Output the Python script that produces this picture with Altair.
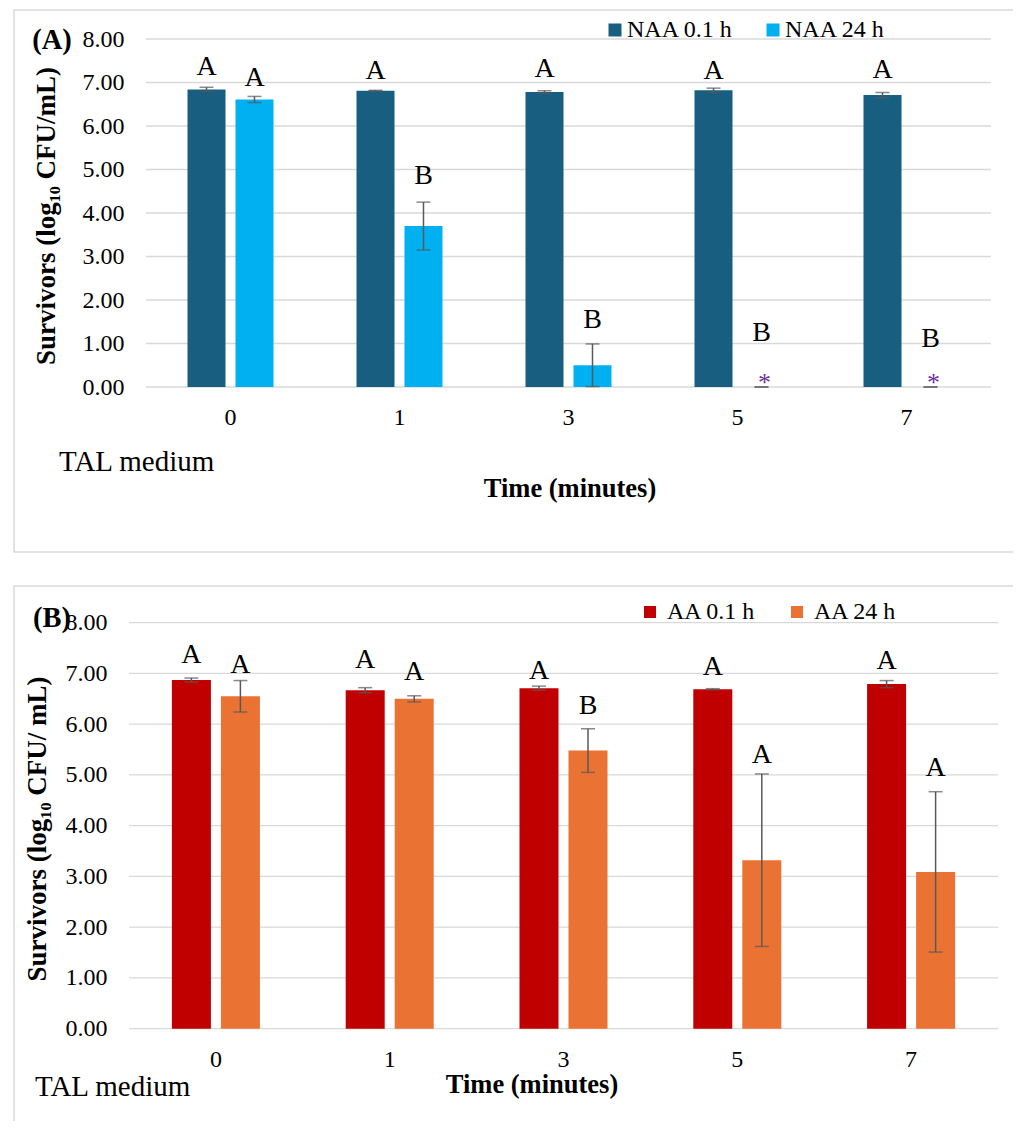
import altair as alt
import pandas as pd

FONT = "Liberation Serif"

times = ["0", "1", "3", "5", "7"]
y_ticks = [0, 1, 2, 3, 4, 5, 6, 7, 8]

# ---- Panel A: NAA ----
naa_series = ["NAA 0.1 h", "NAA 24 h"]
naa_colors = ["#175E81", "#00B0F0"]
naa_short_mean = [6.84, 6.81, 6.78, 6.82, 6.71]
naa_short_err = [0.05, 0.01, 0.03, 0.05, 0.06]
naa_long_mean = [6.61, 3.70, 0.50, 0.0, 0.0]
naa_long_err = [0.07, 0.55, 0.49, 0.0, 0.0]
naa_short_letters = ["A", "A", "A", "A", "A"]
naa_long_letters = ["A", "B", "B", "B", "B"]
naa_short_letter_at = [7.36, 7.26, 7.32, 7.27, 7.29]
naa_long_letter_at = [7.10, 4.85, 1.54, 1.24, 1.10]
naa_short_marks = ["", "", "", "", ""]
naa_long_marks = ["", "", "", "*", "*"]

# ---- Panel B: AA ----
aa_series = ["AA 0.1 h", "AA 24 h"]
aa_colors = ["#C00000", "#EA7333"]
aa_short_mean = [6.87, 6.67, 6.71, 6.69, 6.79]
aa_short_err = [0.04, 0.05, 0.04, 0.01, 0.07]
aa_long_mean = [6.55, 6.50, 5.48, 3.32, 3.09]
aa_long_err = [0.31, 0.06, 0.43, 1.70, 1.58]
aa_short_letters = ["A", "A", "A", "A", "A"]
aa_long_letters = ["A", "A", "B", "A", "A"]
aa_short_letter_at = [7.36, 7.26, 7.05, 7.13, 7.24]
aa_long_letter_at = [7.16, 7.03, 6.35, 5.39, 5.14]
aa_short_marks = ["", "", "", "", ""]
aa_long_marks = ["", "", "", "", ""]


def make_df(series, means, errs, letters, letter_at, marks):
    rows = []
    for s, m_l, e_l, l_l, la_l, mk_l in zip(series, means, errs, letters, letter_at, marks):
        for t, m, e, l, la, mk in zip(times, m_l, e_l, l_l, la_l, mk_l):
            rows.append(dict(time=t, series=s, mean=m, low=max(m - e, 0.0), high=m + e,
                             letter=l, letter_at=la, mark=mk))
    return pd.DataFrame(rows)


def text_layer(txt, x, y, size, bold=False, angle=0, align="center", color="black"):
    kw = dict(font=FONT, fontSize=size, align=align, baseline="middle", color=color)
    if bold:
        kw["fontWeight"] = "bold"
    if angle:
        kw["angle"] = angle
    return alt.Chart(pd.DataFrame({"t": [txt]})).mark_text(**kw).encode(
        text="t:N", x=alt.value(x), y=alt.value(y))


def panel(df, series, colors, x_range, y_range, x_axis_off, y_axis_off, x_lab_pad, y_lab_pad,
          pad_inner, pad_outer, legend_xy, legend_label_offset, legend_col_pad, symbol_size,
          box, panel_label, panel_label_xy, ytitle, ytitle_xy, tal_xy, time_xy):
    xscale = alt.Scale(domain=times, range=x_range, paddingInner=0, paddingOuter=0)
    yscale = alt.Scale(domain=[0, 8], range=y_range, nice=False, zero=True)
    xaxis = alt.Axis(orient="bottom", offset=x_axis_off, domain=False, ticks=False, grid=False,
                     labelFont=FONT, labelFontSize=24, labelColor="black", labelPadding=x_lab_pad,
                     labelAngle=0, title=None)
    yaxis = alt.Axis(orient="left", offset=y_axis_off, values=y_ticks, format=".2f", domain=False,
                     ticks=False, grid=False, labelFont=FONT, labelFontSize=24, labelColor="black",
                     labelPadding=y_lab_pad, title=None)
    X = alt.X("time:N", scale=xscale, axis=xaxis, sort=times)
    XO = alt.XOffset("series:N", sort=series,
                     scale=alt.Scale(domain=series, paddingInner=pad_inner, paddingOuter=pad_outer))

    def Y(field):
        return alt.Y(field, scale=yscale, axis=yaxis)

    boxl = alt.Chart(pd.DataFrame({"a": [0]})).mark_rect(
        fillOpacity=0, stroke="#D9D9D9", strokeWidth=1.5).encode(
        x=alt.value(box[0]), x2=alt.value(box[1]), y=alt.value(box[2]), y2=alt.value(box[3]))

    grid = alt.Chart(pd.DataFrame({"tick": y_ticks})).mark_rule(
        color="#D9D9D9", strokeWidth=1.3).encode(
        y=Y("tick:Q"), x=alt.value(x_range[0]), x2=alt.value(x_range[1]))

    base = alt.Chart(df)
    bars = base.mark_bar().encode(
        x=X, xOffset=XO, y=Y("mean:Q"),
        color=alt.Color("series:N", sort=series, scale=alt.Scale(domain=series, range=colors),
                        legend=alt.Legend(orient="none", legendX=legend_xy[0], legendY=legend_xy[1],
                                          direction="horizontal", title=None, symbolType="square",
                                          symbolSize=symbol_size, symbolStrokeWidth=0,
                                          labelFont=FONT, labelFontSize=24, labelColor="black",
                                          labelOffset=legend_label_offset,
                                          columnPadding=legend_col_pad, padding=0)))
    err = base.mark_rule(color="#595959", strokeWidth=1.5).encode(
        x=X, xOffset=XO, y=Y("low:Q"), y2="high:Q")
    cap_hi = base.mark_tick(color="#595959", thickness=1.5, size=14, orient="horizontal").encode(
        x=X, xOffset=XO, y=Y("high:Q"))
    cap_lo = base.mark_tick(color="#595959", thickness=1.5, size=14, orient="horizontal").encode(
        x=X, xOffset=XO, y=Y("low:Q"))
    letters = base.mark_text(font=FONT, fontSize=28, baseline="middle", color="black").encode(
        x=X, xOffset=XO, y=Y("letter_at:Q"), text="letter:N")
    marks = base.transform_filter(alt.datum.mark != "").mark_text(
        font=FONT, fontSize=26, baseline="alphabetic", color="#7030A0", dy=4, dx=3).encode(
        x=X, xOffset=XO, y=Y("mean:Q"), text="mark:N")

    deco = [
        text_layer(panel_label, panel_label_xy[0], panel_label_xy[1], 28.5, bold=True),
        text_layer(ytitle, ytitle_xy[0], ytitle_xy[1], 27, bold=True, angle=270),
        text_layer("TAL medium", tal_xy[0], tal_xy[1], 29, align="left"),
        text_layer("Time (minutes)", time_xy[0], time_xy[1], 26.5, bold=True),
    ]
    return alt.layer(boxl, grid, bars, err, cap_hi, cap_lo, letters, marks, *deco)


W, H = 1005, 1113

df_a = make_df(naa_series, [naa_short_mean, naa_long_mean], [naa_short_err, naa_long_err],
               [naa_short_letters, naa_long_letters], [naa_short_letter_at, naa_long_letter_at],
               [naa_short_marks, naa_long_marks])
df_b = make_df(aa_series, [aa_short_mean, aa_long_mean], [aa_short_err, aa_long_err],
               [aa_short_letters, aa_long_letters], [aa_short_letter_at, aa_long_letter_at],
               [aa_short_marks, aa_long_marks])

panel_a = panel(df_a, naa_series, naa_colors,
                x_range=[138, 983], y_range=[379, 31],
                x_axis_off=379 - H, y_axis_off=-138, x_lab_pad=18, y_lab_pad=22,
                pad_inner=0.208, pad_outer=0.865,
                legend_xy=(595, 10), legend_label_offset=0, legend_col_pad=28, symbol_size=169,
                box=(6, 1009, 2, 544), panel_label="(A)", panel_label_xy=(44, 32),
                ytitle="Survivors (log\u2081\u2080 CFU/mL)", ytitle_xy=(39, 208),
                tal_xy=(51, 454), time_xy=(562, 481))

panel_b = panel(df_b, aa_series, aa_colors,
                x_range=[121, 990], y_range=[1020.7, 614.7],
                x_axis_off=1020.7 - H, y_axis_off=-121, x_lab_pad=19, y_lab_pad=22,
                pad_inner=0.204, pad_outer=0.875,
                legend_xy=(630, 592), legend_label_offset=5, legend_col_pad=29, symbol_size=144,
                box=(6, 1030, 578, 1140), panel_label="(B)", panel_label_xy=(44, 610),
                ytitle="Survivors (log\u2081\u2080 CFU/ mL)", ytitle_xy=(30, 821),
                tal_xy=(27, 1079), time_xy=(524, 1077))

chart = alt.layer(panel_a, panel_b).resolve_scale(
    x="independent", y="independent", xOffset="independent", color="independent"
).properties(
    width=W, height=H, autosize=alt.AutoSizeParams(type="none"), padding=0, background="white"
).configure_view(strokeWidth=0)

chart.save("out.html", embed_options={"renderer": "svg", "actions": False})
